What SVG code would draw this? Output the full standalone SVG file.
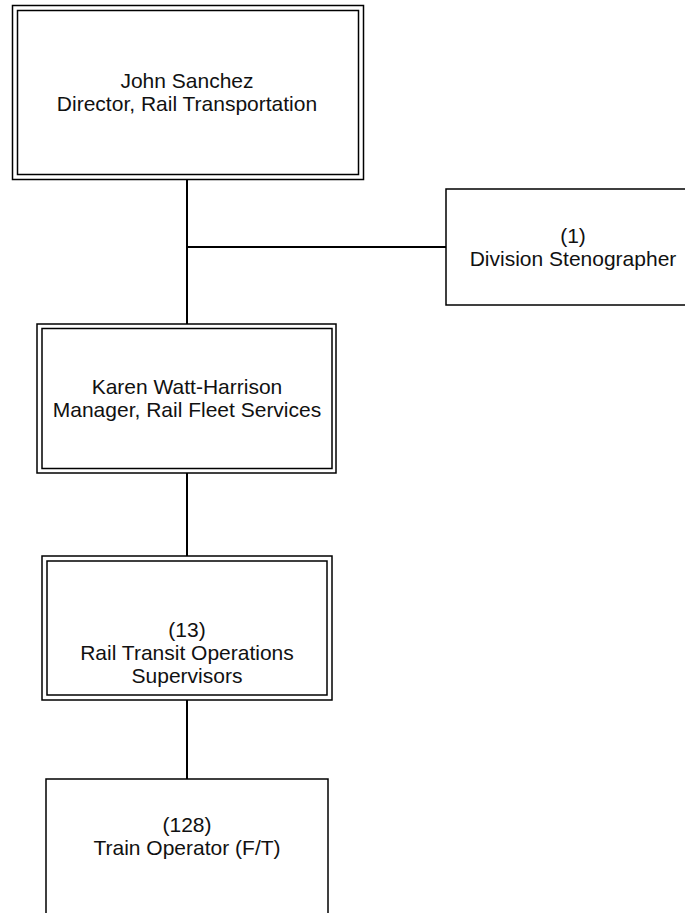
<svg xmlns="http://www.w3.org/2000/svg" width="685" height="913" viewBox="0 0 685 913">
<style>
.b{fill:#fff;stroke:#000;stroke-width:1.5}
.c{stroke:#000;stroke-width:2;fill:none}
text{font-family:"Liberation Sans",Arial,sans-serif;font-size:21px;fill:#111;text-anchor:middle}
</style>
<rect width="685" height="913" fill="#fff"/>
<g id="connectors">
<line class="c" x1="187" y1="179" x2="187" y2="324"/>
<line class="c" x1="187" y1="247" x2="446" y2="247"/>
<line class="c" x1="187" y1="473" x2="187" y2="556"/>
<line class="c" x1="187" y1="700" x2="187" y2="779"/>
</g>
<g id="director">
<rect class="b" x="12.5" y="5.5" width="351" height="174"/>
<rect class="b" x="17.5" y="10.5" width="341" height="164"/>
<text x="187" y="88">John Sanchez</text>
<text x="187" y="111">Director, Rail Transportation</text>
</g>
<g id="stenographer">
<rect class="b" x="446" y="189" width="245" height="116"/>
<text x="573" y="243">(1)</text>
<text x="573" y="266">Division Stenographer</text>
</g>
<g id="manager">
<rect class="b" x="37" y="324" width="299" height="149"/>
<rect class="b" x="42" y="328.5" width="290" height="140"/>
<text x="187" y="394">Karen Watt-Harrison</text>
<text x="187" y="417">Manager, Rail Fleet Services</text>
</g>
<g id="supervisors">
<rect class="b" x="42" y="556" width="290" height="144"/>
<rect class="b" x="47" y="561" width="280" height="134"/>
<text x="187" y="637">(13)</text>
<text x="187" y="660">Rail Transit Operations</text>
<text x="187" y="683">Supervisors</text>
</g>
<g id="operators">
<rect class="b" x="46" y="779" width="282" height="200"/>
<text x="187" y="832">(128)</text>
<text x="187" y="855">Train Operator (F/T)</text>
</g>
</svg>
